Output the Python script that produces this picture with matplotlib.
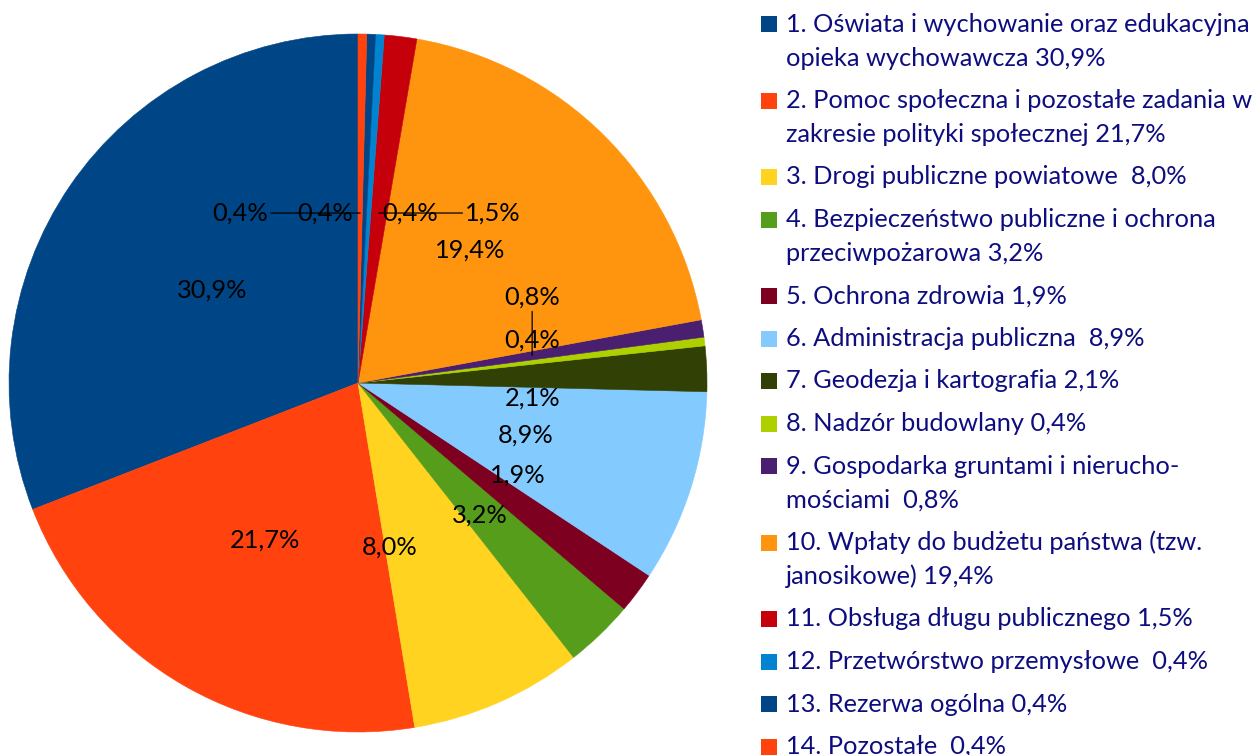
import numpy as np
import matplotlib.pyplot as plt
from matplotlib.patches import Rectangle

plt.rcParams['font.family'] = ['Lato', 'DejaVu Sans']

# dane
categories = [
    "1. Oświata i wychowanie oraz edukacyjna\nopieka wychowawcza 30,9%",
    "2. Pomoc społeczna i pozostałe zadania w\nzakresie polityki społecznej 21,7%",
    "3. Drogi publiczne powiatowe  8,0%",
    "4. Bezpieczeństwo publiczne i ochrona\nprzeciwpożarowa 3,2%",
    "5. Ochrona zdrowia 1,9%",
    "6. Administracja publiczna  8,9%",
    "7. Geodezja i kartografia 2,1%",
    "8. Nadzór budowlany 0,4%",
    "9. Gospodarka gruntami i nierucho-\nmościami  0,8%",
    "10. Wpłaty do budżetu państwa (tzw.\njanosikowe) 19,4%",
    "11. Obsługa długu publicznego 1,5%",
    "12. Przetwórstwo przemysłowe  0,4%",
    "13. Rezerwa ogólna 0,4%",
    "14. Pozostałe  0,4%",
]
shares = [30.9, 21.7, 8.0, 3.2, 1.9, 8.9, 2.1, 0.4, 0.8, 19.4, 1.5, 0.4, 0.4, 0.4]
colors = ['#004586', '#ff420e', '#ffd320', '#579d1c', '#7e0021', '#83caff',
          '#314004', '#aecf00', '#4b1f6f', '#ff950e', '#c5000b', '#0084d1',
          '#004586', '#ff420e']

# położenie etykiet (w promieniach koła) - ręcznie, jak w oryginale
label_pos = [(-0.418, 0.266), (-0.266, -0.450), (0.092, -0.470), (0.350, -0.378),
             (0.458, -0.264), (0.479, -0.149), (0.501, -0.043), (0.499, 0.123),
             (0.499, 0.246), (0.321, 0.381), (0.387, 0.487), (0.149, 0.487),
             (-0.095, 0.487), (-0.338, 0.487)]
# etykiety z linią prowadzącą: indeks -> 'h' (pozioma) / 'v' (pionowa)
leaders = {13: 'h', 10: 'h', 8: 'v'}

W, H = 1255, 755
fig = plt.figure(figsize=(W / 100, H / 100), dpi=100)

cx, cy, R = 358, 383, 349
ax = fig.add_axes([(cx - R) / W, (H - cy - R) / H, 2 * R / W, 2 * R / H])
wedges, _ = ax.pie(shares, colors=colors, startangle=90, counterclock=True,
                   radius=1, wedgeprops=dict(linewidth=0.4))
for w, c in zip(wedges, colors):
    w.set_edgecolor(c)
ax.set_xlim(-1, 1)
ax.set_ylim(-1, 1)
ax.set_aspect('equal')
ax.axis('off')

fs = 18.3
for i, (w, s) in enumerate(zip(wedges, shares)):
    txt = f"{s:.1f}%".replace('.', ',')
    tx, ty = label_pos[i]
    if i in leaders:
        mid = np.deg2rad((w.theta1 + w.theta2) / 2)
        if leaders[i] == 'h':
            px, py = ty / np.tan(mid), ty
        else:
            px, py = tx, tx * np.tan(mid)
        ax.annotate(txt, xy=(px, py), xytext=(tx, ty), ha='center', va='center',
                    fontsize=fs, color='black',
                    arrowprops=dict(arrowstyle='-', color='black', lw=0.9,
                                    shrinkA=0, shrinkB=0))
    else:
        ax.text(tx, ty, txt, ha='center', va='center', fontsize=fs, color='black')

# legenda
lax = fig.add_axes([0, 0, 1, 1])
lax.set_xlim(0, W)
lax.set_ylim(H, 0)
lax.axis('off')
line_h, gap = 34, 8.5
y = 24
for cat, col in zip(categories, colors):
    lines = cat.split('\n')
    lax.add_patch(Rectangle((761, y - 8), 16, 16, facecolor=col, edgecolor='none'))
    for k, ln in enumerate(lines):
        lax.text(786, y + k * line_h, ln, ha='left', va='center', fontsize=fs,
                 color='#0d0d80')
    y += len(lines) * line_h + gap

fig.savefig('out.png', dpi=100)
